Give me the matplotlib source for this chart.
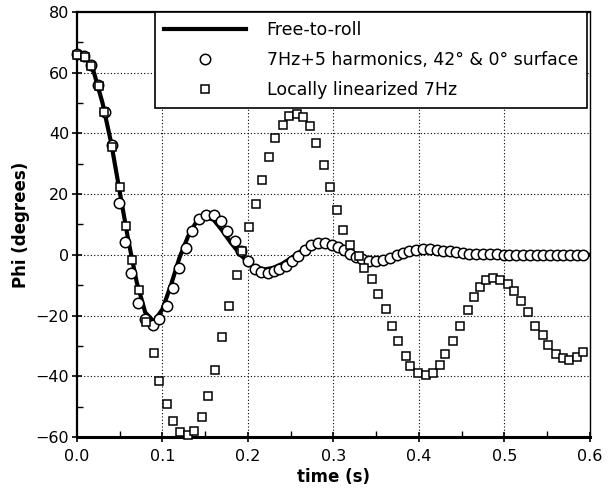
import matplotlib
matplotlib.use("Agg")
import matplotlib.pyplot as plt
from matplotlib.ticker import MultipleLocator, FormatStrFormatter

# Free-to-roll (solid thick line)
line_t = [0.0, 0.01, 0.02, 0.03, 0.04, 0.05, 0.06, 0.07, 0.08, 0.09, 0.10, 0.11,
          0.12, 0.13, 0.14, 0.15, 0.16, 0.17, 0.18, 0.19, 0.20, 0.21, 0.22, 0.23,
          0.24, 0.25, 0.26, 0.27, 0.28, 0.29, 0.30, 0.31, 0.32, 0.33, 0.34, 0.35,
          0.36, 0.37, 0.38, 0.39, 0.40, 0.41, 0.42, 0.43, 0.44, 0.46, 0.48, 0.50,
          0.55, 0.60]
line_phi = [66, 65, 60, 50, 37, 21, 5, -9, -19, -22, -18, -10,
            -1, 6, 11, 12.5, 11.5, 8, 4, 0.5, -2.5, -4.2, -4.8, -4.3,
            -3, -1.2, 0.8, 2.3, 3.2, 3.2, 2.4, 1.2, 0, -1, -1.5, -1.6,
            -1.3, -0.7, 0, 0.5, 0.8, 0.8, 0.6, 0.3, 0, -0.3, -0.3, -0.1,
            0, 0]

# 7Hz+5 harmonics (circles)
circ_t = [0.000, 0.008, 0.016, 0.025, 0.033, 0.041, 0.0495, 0.056, 0.063, 0.071,
          0.080, 0.089, 0.096, 0.105, 0.113, 0.120, 0.128, 0.135, 0.143, 0.151,
          0.160, 0.168, 0.176, 0.185, 0.192, 0.200, 0.208, 0.215, 0.223, 0.230,
          0.237, 0.245, 0.252, 0.259, 0.267, 0.274, 0.282, 0.290, 0.298, 0.305,
          0.312, 0.319, 0.326, 0.334, 0.342, 0.350, 0.358, 0.366, 0.374, 0.382,
          0.389, 0.397, 0.405, 0.413, 0.421, 0.428, 0.436, 0.444, 0.452, 0.459,
          0.467, 0.475, 0.483, 0.491, 0.499, 0.506, 0.514, 0.522, 0.530, 0.538,
          0.545, 0.553, 0.561, 0.569, 0.577, 0.585, 0.592]
circ_phi = [66, 65.5, 62.5, 56, 47, 36, 17, 4.2, -6, -16,
            -21, -23.2, -21, -16.8, -11, -4.5, 2.2, 7.7, 11.7, 13.2,
            13.2, 11, 7.7, 4.4, 1.3, -2.2, -4.7, -5.8, -6, -5.5,
            -4.6, -3.6, -2, -0.4, 1.6, 3.2, 4, 3.9, 3.3, 2.5,
            1.5, 0.4, -0.6, -1.5, -2, -2, -1.6, -1.1, -0.2, 0.5,
            1.1, 1.6, 1.9, 1.9, 1.6, 1.4, 1.1, 0.8, 0.6, 0.4,
            0.3, 0.2, 0.1, 0.1, 0.0, 0.0, 0.0, 0.0, 0.0, 0.0,
            0.0, 0.0, 0.0, 0.0, 0.0, 0.0, 0.0]

# Locally linearized 7Hz (squares)
sq_t = [0.000, 0.009, 0.017, 0.026, 0.032, 0.041, 0.050, 0.057, 0.065, 0.073,
        0.081, 0.090, 0.096, 0.105, 0.113, 0.121, 0.130, 0.137, 0.146, 0.153,
        0.161, 0.170, 0.178, 0.187, 0.193, 0.201, 0.210, 0.217, 0.225, 0.232,
        0.241, 0.248, 0.257, 0.265, 0.273, 0.280, 0.289, 0.296, 0.304, 0.311,
        0.320, 0.330, 0.336, 0.345, 0.352, 0.361, 0.369, 0.376, 0.385, 0.390,
        0.399, 0.408, 0.416, 0.425, 0.431, 0.440, 0.448, 0.457, 0.464, 0.471,
        0.479, 0.487, 0.495, 0.504, 0.511, 0.519, 0.528, 0.536, 0.545, 0.551,
        0.560, 0.569, 0.576, 0.585, 0.592]
sq_phi = [65.8, 65, 62, 55.6, 47, 35.5, 22.4, 9.6, -1.6, -11.7,
          -22.3, -32.3, -41.7, -49, -54.8, -58.3, -59.4, -57.9, -53.5, -46.6,
          -38, -27.2, -16.8, -6.6, 1.4, 9.0, 16.7, 24.7, 32.1, 38.4,
          42.8, 45.8, 46.4, 45.5, 42.4, 36.7, 29.6, 22.3, 14.8, 8.2,
          3.3, -0.5, -4.4, -8, -12.9, -17.9, -23.6, -28.5, -33.2, -36.5,
          -38.9, -39.5, -38.9, -36.3, -32.7, -28.3, -23.5, -18.3, -13.9, -10.7,
          -8.2, -7.7, -8.2, -9.5, -11.8, -15.1, -18.8, -23.4, -26.5, -29.8,
          -32.6, -34, -34.5, -33.7, -32]

labels = ["Free-to-roll", "7Hz+5 harmonics, 42\u00b0 & 0\u00b0 surface", "Locally linearized 7Hz"]
x_ticks = [0.0, 0.1, 0.2, 0.3, 0.4, 0.5, 0.6]
y_ticks = [-60, -40, -20, 0, 20, 40, 60, 80]

plt.rcParams['font.family'] = ['DejaVu Sans']
fig = plt.figure(figsize=(6.1, 4.91), dpi=100)
ax = fig.add_axes([0.126, 0.110, 0.841, 0.866])

ax.plot(line_t, line_phi, color='black', lw=3.0, zorder=2, label=labels[0])
ax.plot(circ_t, circ_phi, 'o', ms=7.5, mfc='white', mec='black', mew=1.1,
        zorder=3, label=labels[1], clip_on=False)
ax.plot(sq_t, sq_phi, 's', ms=5.2, mfc='white', mec='black', mew=1.1,
        zorder=4, label=labels[2], clip_on=False)

ax.set_xlim(0, 0.6)
ax.set_ylim(-60, 80)
ax.set_xticks(x_ticks)
ax.set_yticks(y_ticks)
ax.xaxis.set_major_formatter(FormatStrFormatter('%.1f'))
ax.xaxis.set_minor_locator(MultipleLocator(0.05))
ax.yaxis.set_minor_locator(MultipleLocator(10))
ax.tick_params(which='major', direction='inout', length=7, width=1.2, labelsize=11.5)
ax.tick_params(which='minor', direction='in', length=4, width=1.0)
ax.tick_params(axis='x', pad=5)
ax.tick_params(axis='y', pad=2)

ax.grid(True, which='major', color='black', linestyle=(0, (1, 2)), lw=0.8)
ax.set_axisbelow(True)

ax.spines['bottom'].set_linewidth(2.2)
ax.spines['left'].set_linewidth(1.6)
ax.spines['top'].set_linewidth(1.6)
ax.spines['right'].set_linewidth(1.0)

ax.set_xlabel('time (s)', fontsize=12, fontweight='bold', labelpad=3)
ax.set_ylabel('Phi (degrees)', fontsize=12, fontweight='bold', labelpad=4)

leg = ax.legend(loc='upper right', bbox_to_anchor=(0.995, 1.0), fontsize=12.5,
                frameon=True, fancybox=False, edgecolor='black', framealpha=1,
                borderaxespad=0, handlelength=4.7, borderpad=0.55, labelspacing=0.68,
                handletextpad=1.2)
leg.get_frame().set_linewidth(1.2)

fig.savefig('out.png', dpi=100)
